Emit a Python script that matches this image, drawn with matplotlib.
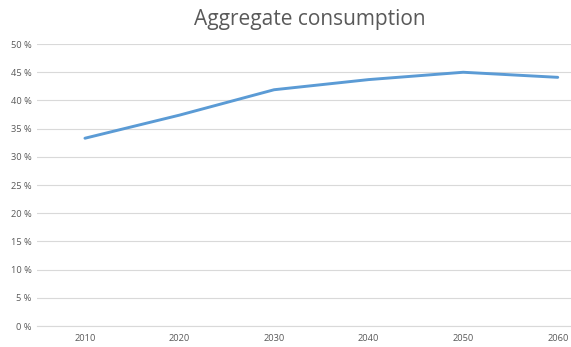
import matplotlib
matplotlib.use("Agg")
import matplotlib.pyplot as plt
from matplotlib.ticker import FuncFormatter

years = ["2010", "2020", "2030", "2040", "2050", "2060"]
consumption = [33.3, 37.4, 41.9, 43.7, 45.0, 44.1]
y_ticks = list(range(0, 55, 5))

plt.rcParams['font.family'] = ['Open Sans', 'DejaVu Sans']

fig = plt.figure(figsize=(5.71, 3.47), dpi=100)
ax = fig.add_axes([0.0648, 0.0605, 0.9352, 0.8125])

xs = list(range(len(years)))
ax.plot(xs, consumption, color="#5B9BD5", lw=2.1, solid_capstyle="round")

ax.set_ylim(0, 50)
ax.set_xlim(-0.507, 5.14)
ax.set_yticks(y_ticks)
ax.yaxis.set_major_formatter(FuncFormatter(lambda v, p: "%d %%" % v))
ax.set_xticks(xs)
ax.set_xticklabels(years)
ax.grid(axis="y", color="#D9D9D9", lw=0.8)
ax.set_axisbelow(True)
for s in ["top", "right", "left"]:
    ax.spines[s].set_visible(False)
ax.spines["bottom"].set_color("#D9D9D9")
ax.spines["bottom"].set_linewidth(0.8)
ax.tick_params(length=0, labelsize=6.7, colors="#595959", pad=6)
ax.tick_params(axis="y", pad=4)

fig.text(0.543, 0.943, "Aggregate consumption", ha="center", va="center",
         fontsize=15, color="#595959")

fig.savefig("out.png", dpi=100)
